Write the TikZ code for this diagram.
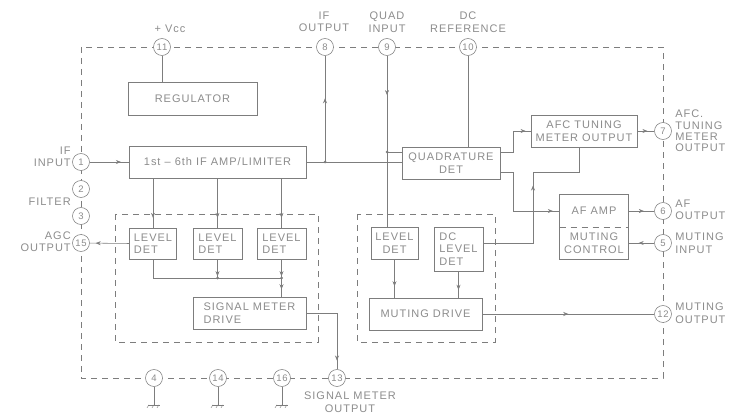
\documentclass[tikz,border=0pt]{standalone}
\usepackage{fontspec}
\setmainfont{Liberation Sans}[LetterSpace=9]
\usetikzlibrary{positioning,calc,arrows.meta,decorations.markings}
\definecolor{ink}{RGB}{125,125,125}
\definecolor{txt}{RGB}{140,140,140}
\newcommand\boxfont{\fontsize{11}{12.5}\selectfont}
\newcommand\numfont{\fontsize{9.5}{9.5}\selectfont}

\begin{document}
\begin{tikzpicture}[x=1pt, y=-1pt, color=ink, line width=0.55pt,
  blk/.style={draw, fill=white, inner sep=1pt, align=center, font=\boxfont, text=txt},
  term/.style={draw, circle, fill=white, minimum size=17pt, inner sep=0pt, font=\numfont, text=txt},
  lbl/.style={font=\boxfont, text=txt, inner sep=0pt},
  dashbox/.style={dash pattern=on 6pt off 5pt},
  flow/.style={postaction={decorate}, decoration={markings,
      mark=at position #1 with {\arrow{Stealth[length=5pt, width=4pt]}}}},
  flow/.default=0.5,
  jn/.style={circle, fill=ink, inner sep=0pt, minimum size=3pt}
]
\useasboundingbox (0,0) rectangle (731,414);

% package outline and the two detector groups
\draw[dashbox] (81,47) rectangle (663,378);
\draw[dashbox] (115,214) rectangle (318,342);
\draw[dashbox] (357,214) rectangle (495,342);

% blocks
\node[blk, minimum width=129pt, minimum height=33pt] (reg)  at (192.5,98.5) {REGULATOR};
\node[blk, minimum width=177pt, minimum height=32pt] (amp)  at (217.5,162) {1st – 6th IF AMP/LIMITER};
\node[blk, minimum width=98pt,  minimum height=32pt] (quad) at (451,163) {QUADRATURE\\DET};
\node[blk, minimum width=106pt, minimum height=32pt] (afc)  at (584,131) {AFC TUNING\\METER OUTPUT};
\node[lbl, minimum width=68pt, minimum height=32pt] (afamp) at (594,211) {AF AMP};
\node[lbl, align=center, minimum width=68pt, minimum height=32pt] (mute) at (594,243) {MUTING\\CONTROL};
\draw (afamp.north west) rectangle (mute.south east);
\draw[dashbox] (afamp.south west) -- (afamp.south east);

\node[blk, align=left, minimum width=47pt, minimum height=31pt] (ld1) at (153,243.5) {LEVEL\\DET};
\node[blk, align=left, minimum width=49pt, minimum height=31pt] (ld2) at (217.5,243.5) {LEVEL\\DET};
\node[blk, align=left, minimum width=49pt, minimum height=31pt] (ld3) at (281.5,243.5) {LEVEL\\DET};
\node[blk, align=left, minimum width=113pt, minimum height=32pt] (smd) at (249.5,313) {SIGNAL METER\\DRIVE};

\node[blk, minimum width=47pt, minimum height=32pt] (ldr) at (394.5,243) {LEVEL\\DET};
\node[blk, align=left, minimum width=49pt, minimum height=44pt] (dcld) at (458.5,249) {DC\\LEVEL\\DET};
\node[blk, minimum width=113pt, minimum height=32pt] (mdrv) at (425.5,314) {MUTING DRIVE};

% pins
\node[term] (p11) at (162,47) {11};
\node[term] (p8)  at (325,47) {8};
\node[term] (p9)  at (387,47) {9};
\node[term] (p10) at (468,47) {10};
\node[term] (p7)  at (663,131) {7};
\node[term] (p6)  at (663,211) {6};
\node[term] (p5)  at (663,243) {5};
\node[term] (p12) at (663,314) {12};
\node[term] (p1)  at (81,162) {1};
\node[term] (p2)  at (81,189) {2};
\node[term] (p3)  at (81,216) {3};
\node[term] (p15) at (81,243) {15};
\node[term] (p4)  at (154,378) {4};
\node[term] (p14) at (218,378) {14};
\node[term] (p16) at (282,378) {16};
\node[term] (p13) at (337,378) {13};

% pin labels
\node[lbl] (tvcc) at (170,29) {+ Vcc};
\node[lbl, align=center] (t8)  at (324,22) {IF\\OUTPUT};
\node[lbl, align=center] (t9)  at (387,22) {QUAD\\INPUT};
\node[lbl, align=center] (t10) at (468,22) {DC\\REFERENCE};
\node[lbl, align=left, anchor=west, font=\fontsize{11}{11.2}\selectfont] (t7) at (675,131) {AFC.\\TUNING\\METER\\OUTPUT};
\node[lbl, align=left, anchor=west] (t6)  at (675,210) {AF\\OUTPUT};
\node[lbl, align=left, anchor=west] (t5)  at (675,243) {MUTING\\INPUT};
\node[lbl, align=left, anchor=west] (t12) at (675,313) {MUTING\\OUTPUT};
\node[lbl, align=right, anchor=east] (t1)  at (71,157) {IF\\INPUT};
\node[lbl, anchor=east] (tflt) at (71,202) {FILTER};
\node[lbl, align=right, anchor=east] (t15) at (71,241.5) {AGC\\OUTPUT};
\node[lbl, align=center] (t13) at (350,402) {SIGNAL METER\\OUTPUT};

% connections
\draw (p11) -- (reg.north -| p11);
\draw[flow=0.8] (p1) -- (amp.west);
\draw (amp.east) -- (amp.east -| quad.west);
\coordinate (j8) at (amp.east -| p8);
\draw[flow=0.6] (j8) -- (p8);
\node[jn] (d8) at (j8) {};
\coordinate (j9) at (387,152);
\draw[flow=0.23] (p9) -- (p9 |- ldr.north);
\draw (j9) -- (j9 -| quad.west);
\node[jn] (d9) at (j9) {};
\draw (p10) -- (p10 |- quad.north);
\draw[flow=0.9] (j9 -| quad.east) -- ++(13,0) |- (afc.west);
\draw[flow=0.93] ([yshift=-9pt]quad.east) -- ++(13,0) |- (afamp.west);
\draw[flow=0.56] (dcld.east |- ldr) -| (533,172) -| ([xshift=-5pt]afc.south);
\draw[flow=0.6] (afc.east) -- (p7);
\draw[flow=0.6] (afamp.east) -- (p6);
\draw[flow=0.6] (p5) -- (mute.east);

\foreach \b in {ld1,ld2,ld3}
  \draw[flow=0.8] (amp.south -| \b) -- (\b.north);
\draw[flow=0.85] (ld1.west) -- (p15);
\coordinate (bus) at (281.5,278);
\draw (ld1.south) |- (bus);
\draw[flow=0.9] (ld2.south) -- (ld2.south |- bus);
\draw[flow=0.9] (ld3.south) -- (bus);
\draw[flow=0.6] (bus) -- (bus |- smd.north);
\node[jn] (d2) at (ld2.south |- bus) {};
\node[jn] (d3) at (bus) {};
\draw[flow=0.9] (smd.east) -| (p13);

\draw[flow=0.7] (ldr.south) -- (ldr.south |- mdrv.north);
\draw[flow=0.7] (dcld.south) -- (dcld.south |- mdrv.north);
\draw[flow=0.5] (mdrv.east) -- (p12);

% grounds
\foreach \g in {p4,p14,p16} {
  \draw (\g.south) -- ++(0,18) coordinate (\g g);
  \draw ([xshift=-6pt]\g g) -- ([xshift=6pt]\g g);
  \foreach \k in {-5,0,5}
    \draw[line width=0.4pt] ([xshift=\k pt]\g g) -- ++(-2,3);
}
\end{tikzpicture}
\end{document}
